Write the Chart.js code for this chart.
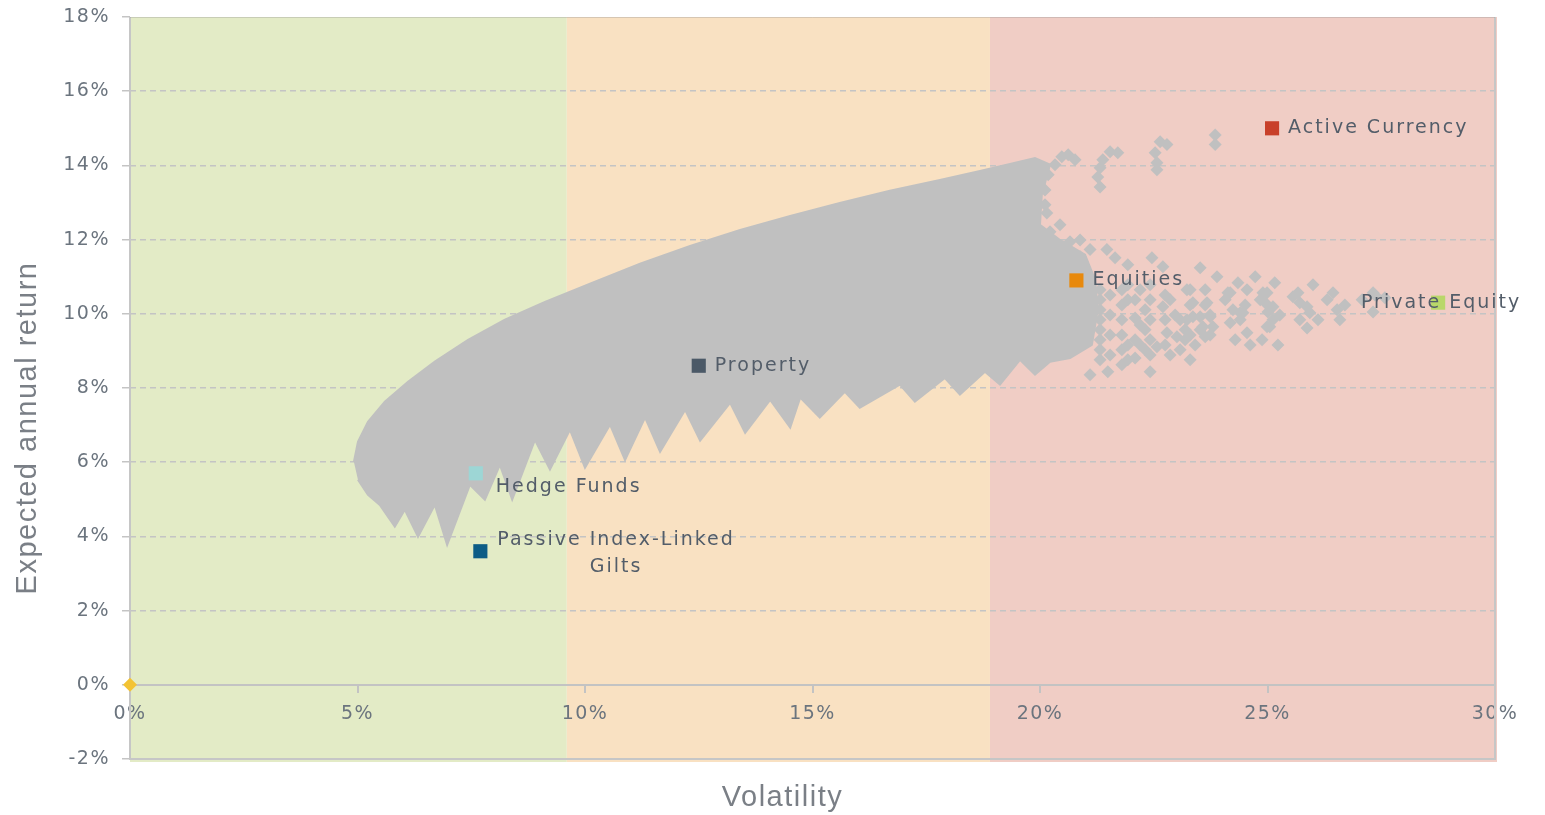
<!DOCTYPE html>
<html lang="en">
<head>
<meta charset="UTF-8">
<title>Risk / return</title>
<script src="https://cdn.jsdelivr.net/npm/chart.js"></script>
<style>
    html, body { margin: 0; padding: 0; background: #fff; }
    #wrap { width: 1545px; height: 815px; }
</style>
</head>
<body>
<div id="wrap"><canvas id="myChart" width="1545" height="815"></canvas></div>
<script>
    // asset classes (volatility %, expected return %)
    const assetNames = ['Active Currency', 'Equities', 'Private Equity', 'Property', 'Hedge Funds', ['Passive Index-Linked', 'Gilts']];
    const assetVol = [25.1, 20.8, 28.75, 12.5, 7.6, 7.7];
    const assetRet = [15.0, 10.9, 10.3, 8.6, 5.7, 3.6];
    const assetColors = ['#c8402a', '#e8890c', '#b9d76a', '#4b5967', '#9dd6d5', '#0d5c86'];

    // outline of the dense cloud of portfolios
    const cloudVol = [4.92, 5.01, 5.23, 5.60, 6.11, 6.70, 7.43, 8.24, 9.12, 10.11, 11.21, 12.31, 13.41, 14.51, 15.60, 16.70, 17.80, 18.68, 19.34, 19.89,
        20.22, 20.04, 20.0, 20.44, 20.99, 21.21, 21.27, 21.14, 20.66,
        20.22, 19.89, 19.56, 19.12, 18.79, 18.24, 17.91, 17.25, 16.92, 16.04, 15.71, 15.16, 14.73, 14.51, 14.07, 13.52, 13.19, 12.53, 12.20,
        11.65, 11.32, 10.88, 10.55, 10.00, 9.67, 9.23, 8.90, 8.40, 8.13, 7.80, 7.47, 6.97, 6.70, 6.33, 6.04, 5.82, 5.49, 5.23, 5.01];
    const cloudRet = [6.01, 6.55, 7.09, 7.63, 8.17, 8.71, 9.30, 9.84, 10.32, 10.81, 11.35, 11.83, 12.26, 12.64, 12.99, 13.32, 13.61, 13.85, 14.04, 14.20,
        14.02, 13.21, 12.40, 11.99, 11.59, 10.92, 10.11, 9.16, 8.81,
        8.71, 8.36, 8.76, 8.09, 8.44, 7.82, 8.27, 7.63, 8.09, 7.47, 7.90, 7.20, 7.74, 6.93, 7.68, 6.79, 7.60, 6.58, 7.41,
        6.28, 7.20, 6.06, 7.01, 5.85, 6.87, 5.80, 6.60, 4.99, 5.93, 4.99, 5.39, 3.77, 4.85, 3.99, 4.72, 4.26, 4.85, 5.12, 5.53];

    // scattered portfolios on the high-volatility side
    const tailVol = [20.48, 20.33, 20.18, 20.11, 20.11, 20.15, 20.77, 20.62, 21.54, 21.71, 21.38, 21.32, 21.27, 21.32,
        22.64, 22.79, 22.53, 22.57, 22.57, 23.85, 23.85,
        19.41, 19.93, 20.66, 21.47, 21.65, 21.93, 22.46, 22.70, 23.52, 23.89, 24.35, 24.73, 25.16, 26.0, 26.44,
        23.23, 23.36, 23.52, 23.58, 23.08, 23.01, 23.08, 22.70, 22.79, 22.57, 24.18, 24.24, 24.40, 24.55, 24.18,
        24.99, 25.12, 25.12, 24.99, 24.84, 25.56, 25.87, 25.93, 25.87, 26.31, 26.53, 27.08, 27.32, 27.32,
        24.40, 25.05, 23.80, 23.36, 23.63,
        21.32, 21.32, 21.32, 21.32, 21.32, 21.32, 21.32, 21.32, 21.54, 21.54, 21.54, 21.54,
        21.80, 21.80, 21.80, 21.80, 21.80, 21.80, 22.09, 22.09, 22.09, 22.09, 22.31, 22.31, 22.31, 22.42, 22.42, 21.10, 21.49,
        22.86, 22.97, 23.19, 23.41, 22.86, 23.30, 24.07, 24.51, 24.29, 24.62, 25.27, 24.88, 25.23, 25.71, 26.11, 26.70, 26.59, 27.58,
        19.12, 19.34, 19.60, 19.12, 19.01, 19.67, 20.22, 20.44, 20.88, 21.10, 20.44,
        21.93, 21.93, 21.93, 21.93, 22.20, 22.20, 22.20, 22.42, 22.42, 22.42, 22.42, 22.75, 22.75, 22.75,
        23.30, 23.30, 23.30, 23.63, 23.63, 23.74, 23.74, 20.88,
        25.67, 25.71, 24.55, 24.90, 24.95, 25.01, 24.13, 24.46, 23.67, 23.74, 23.52, 23.23, 23.19, 27.36];
    const tailRet = [14.23, 14.02, 13.75, 13.34, 12.94, 12.72, 14.15, 14.29, 14.37, 14.34, 14.15, 13.94, 13.69, 13.42,
        14.64, 14.56, 14.34, 14.07, 13.88, 14.82, 14.56,
        12.45, 12.18, 11.94, 11.73, 11.51, 11.32, 11.51, 11.27, 11.24, 11.00, 10.84, 11.00, 10.84, 10.78, 10.57,
        10.65, 10.30, 9.92, 9.65, 9.84, 9.38, 9.03, 10.19, 9.49, 9.11, 10.57, 10.11, 9.84, 9.49, 9.76,
        10.57, 10.19, 9.84, 9.65, 10.38, 10.46, 10.19, 10.03, 9.62, 10.38, 10.11, 10.38, 10.57, 10.05,
        10.03, 9.65, 9.65, 9.92, 9.38,
        10.65, 10.38, 10.11, 9.84, 9.57, 9.30, 9.03, 8.76, 10.51, 9.97, 9.43, 8.89,
        10.65, 10.24, 9.84, 9.43, 9.03, 8.63, 10.38, 9.89, 9.30, 8.81, 10.11, 9.57, 9.03, 10.78, 8.44, 8.36, 8.44,
        10.38, 9.97, 9.57, 9.16, 8.89, 8.76, 10.38, 10.24, 9.30, 9.16, 9.97, 9.30, 9.16, 9.84, 9.84, 10.24, 9.84, 10.43,
        13.07, 12.67, 13.21, 11.86, 12.40, 11.73, 12.21, 12.40, 11.99, 11.73, 11.59,
        10.78, 10.38, 9.16, 8.76, 10.65, 9.70, 9.16, 10.38, 9.84, 9.30, 8.89, 10.51, 9.84, 9.16,
        10.65, 10.24, 9.43, 10.65, 10.24, 9.97, 9.43, 11.54,
        10.57, 10.30, 10.65, 10.57, 10.30, 10.05, 10.57, 10.03, 10.30, 9.92, 9.57, 9.84, 9.30, 10.51];

    // risk zones along the volatility axis
    const zoneEdges = [0, 9.6, 18.9, 30];
    const zoneColors = ['#e3ebc6', '#f9e1c2', '#f0cdc5'];

    const yTicks = [-2, 0, 2, 4, 6, 8, 10, 12, 14, 16, 18];
    const xTicks = [0, 5, 10, 15, 20, 25, 30];
    const xTitle = 'Volatility';
    const yTitle = 'Expected annual return';

    const toPts = (xs, ys) => xs.map((x, i) => ({ x: x, y: ys[i] }));

    const zonesPlugin = {
        id: 'zones',
        beforeLayout(chart) {
            chart.ctx.letterSpacing = '1.5px';
        },
        beforeDraw(chart) {
            const { ctx, chartArea, scales } = chart;
            ctx.letterSpacing = '1.5px';
            ctx.save();
            for (let i = 0; i < zoneColors.length; i++) {
                const x1 = scales.x.getPixelForValue(zoneEdges[i]);
                let x2 = scales.x.getPixelForValue(zoneEdges[i + 1]);
                if (i === zoneColors.length - 1) x2 += 2;
                ctx.fillStyle = zoneColors[i];
                ctx.fillRect(x1, chartArea.top, x2 - x1, chartArea.bottom - chartArea.top + 3);
            }
            ctx.restore();
        },
        beforeDatasetsDraw(chart) {
            const { ctx, chartArea } = chart;
            ctx.save();
            // frame
            ctx.strokeStyle = '#c6c6c6';
            ctx.lineWidth = 2;
            ctx.beginPath();
            ctx.moveTo(chartArea.left, chartArea.top);
            ctx.lineTo(chartArea.left, chartArea.bottom);
            ctx.lineTo(chartArea.right, chartArea.bottom);
            ctx.lineTo(chartArea.right, chartArea.top);
            ctx.stroke();
            ctx.strokeStyle = 'rgba(150,150,150,0.35)';
            ctx.lineWidth = 1;
            ctx.beginPath();
            ctx.moveTo(chartArea.left, chartArea.top + 0.5);
            ctx.lineTo(chartArea.right, chartArea.top + 0.5);
            ctx.stroke();
            ctx.restore();
        },
        afterDatasetsDraw(chart) {
            const { ctx, chartArea, scales } = chart;
            ctx.save();
            // asset labels
            ctx.font = '19px "DejaVu Sans"';
            ctx.letterSpacing = '2px';
            ctx.fillStyle = '#535d69';
            ctx.textBaseline = 'middle';
            assetNames.forEach((name, i) => {
                const px = scales.x.getPixelForValue(assetVol[i]);
                const py = scales.y.getPixelForValue(assetRet[i]);
                if (name === 'Private Equity') {
                    ctx.textAlign = 'center';
                    ctx.fillText(name, px + 3, py);
                } else if (Array.isArray(name)) {
                    ctx.textAlign = 'center';
                    const w = ctx.measureText(name[0]).width;
                    const cx = px + 17 + w / 2;
                    ctx.fillText(name[0], cx, py - 11);
                    ctx.fillText(name[1], cx, py + 16);
                } else if (name === 'Hedge Funds') {
                    ctx.textAlign = 'left';
                    ctx.fillText(name, px + 20, py + 14);
                } else {
                    ctx.textAlign = 'left';
                    ctx.fillText(name, px + 16, py);
                }
            });

            // axis titles
            ctx.font = '29px "Liberation Sans"';
            ctx.letterSpacing = '1.5px';
            ctx.fillStyle = '#7a7f86';
            ctx.textAlign = 'center';
            ctx.fillText(xTitle, (chartArea.left + chartArea.right) / 2 - 30, chart.height - 17);
            ctx.translate(28, (chartArea.top + chartArea.bottom) / 2 + 40);
            ctx.rotate(-Math.PI / 2);
            ctx.fillText(yTitle, 0, 0);
            ctx.restore();
        }
    };

    const pct = v => v + '%';

    new Chart(document.getElementById('myChart'), {
        type: 'scatter',
        data: {
            datasets: [
                {
                    label: 'Cloud',
                    data: toPts(cloudVol, cloudRet),
                    showLine: true,
                    fill: 'shape',
                    tension: 0,
                    borderColor: '#c0c0c0',
                    backgroundColor: '#c0c0c0',
                    borderWidth: 2,
                    pointRadius: 0,
                    order: 3
                },
                {
                    label: 'Tail',
                    data: toPts(tailVol, tailRet),
                    pointStyle: 'rectRot',
                    pointRadius: 6.5,
                    borderWidth: 0,
                    backgroundColor: '#c0c0c0',
                    order: 2
                },
                {
                    label: 'Cash',
                    data: [{ x: 0, y: 0 }],
                    pointStyle: 'rectRot',
                    pointRadius: 7,
                    borderWidth: 0,
                    backgroundColor: '#f3c334',
                    clip: false,
                    order: 1
                },
                ...assetNames.map((n, i) => ({
                    label: Array.isArray(n) ? n.join(' ') : n,
                    data: [{ x: assetVol[i], y: assetRet[i] }],
                    pointStyle: 'rect',
                    pointRadius: 10,
                    borderWidth: 0,
                    backgroundColor: assetColors[i],
                    order: 0
                }))
            ]
        },
        options: {
            responsive: false,
            animation: false,
            layout: { padding: { left: 6, right: 50, top: 17, bottom: 56 } },
            plugins: {
                legend: { display: false },
                tooltip: { enabled: false }
            },
            scales: {
                x: {
                    type: 'linear',
                    position: { y: 0 },
                    min: 0,
                    max: 30,
                    afterBuildTicks: s => { s.ticks = xTicks.map(v => ({ value: v })); },
                    ticks: { callback: pct, color: '#6b747e', font: { family: 'DejaVu Sans', size: 19 }, padding: 11, maxRotation: 0 },
                    grid: { drawOnChartArea: false, drawTicks: true, tickLength: 7, color: '#c3c3c3', lineWidth: 2 },
                    border: { display: true, color: '#c3c3c3', width: 2 }
                },
                y: {
                    type: 'linear',
                    min: -2,
                    max: 18,
                    afterBuildTicks: s => { s.ticks = yTicks.map(v => ({ value: v })); },
                    afterFit: s => { s.width = 124; s.paddingTop = 0; s.paddingBottom = 0; },
                    ticks: { callback: pct, color: '#6b747e', font: { family: 'DejaVu Sans', size: 19 }, padding: 12 },
                    grid: {
                        drawTicks: true,
                        tickLength: 8,
                        color: c => (c.tick && (c.tick.value === 0 || c.tick.value === -2 || c.tick.value === 18)) ? 'rgba(0,0,0,0)' : '#c4c4c4',
                        tickColor: '#c4c4c4',
                        tickBorderDash: [],
                        lineWidth: 1.5
                    },
                    border: { display: false, dash: [6, 4] }
                }
            }
        },
        plugins: [zonesPlugin]
    });
</script>
</body>
</html>
